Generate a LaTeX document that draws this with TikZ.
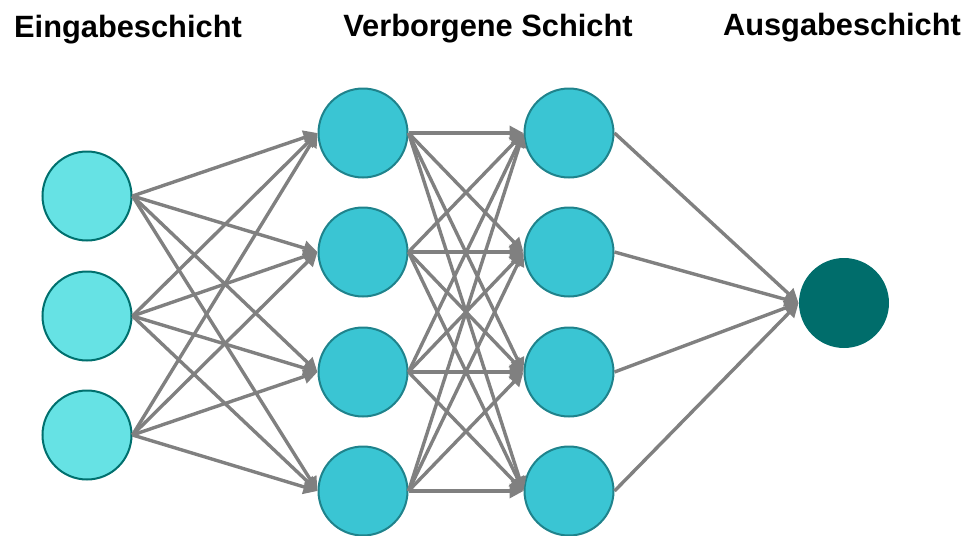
\documentclass[tikz,border=0pt]{standalone}
\usepackage{fontspec}
\setmainfont{Liberation Sans}
\usetikzlibrary{arrows.meta}
\definecolor{infill}{HTML}{66E2E4}
\definecolor{inborder}{HTML}{00706E}
\definecolor{hidfill}{HTML}{3AC5D3}
\definecolor{hidborder}{HTML}{1F838C}
\definecolor{outfill}{HTML}{006D6B}
\definecolor{edgegray}{HTML}{808080}
\tikzset{
  inneuron/.style={circle, minimum size=44.5pt, inner sep=0pt, fill=infill, draw=inborder, line width=1pt},
  hidneuron/.style={circle, minimum size=44.5pt, inner sep=0pt, fill=hidfill, draw=hidborder, line width=1pt},
  outneuron/.style={circle, minimum size=45pt, inner sep=0pt, fill=outfill},
  conn/.style={draw=edgegray, line width=1.7pt, -{Triangle[length=7pt,width=7pt]}},
  title/.style={font=\bfseries\fontsize{15.4pt}{18pt}\selectfont, anchor=base, inner sep=0pt}
}
\begin{document}
\begin{tikzpicture}[x=0.5pt,y=-0.5pt]
\useasboundingbox (0,0) rectangle (971,536);
\node[title] (t1) at (128,37) {Eingabeschicht};
\node[title] (t2) at (488,36) {Verborgene Schicht};
\node[title] (t3) at (842,35) {Ausgabeschicht};
\node[inneuron] (i1) at (87,196) {};
\node[inneuron] (i2) at (87,316) {};
\node[inneuron] (i3) at (87,435) {};
\node[hidneuron] (h1) at (363,133) {};
\node[hidneuron] (h2) at (363,252) {};
\node[hidneuron] (h3) at (363,372) {};
\node[hidneuron] (h4) at (363,491) {};
\node[hidneuron] (g1) at (569,133) {};
\node[hidneuron] (g2) at (569,252) {};
\node[hidneuron] (g3) at (569,372) {};
\node[hidneuron] (g4) at (569,491) {};
\node[outneuron] (o) at (844,303) {};
\foreach \a in {1,2,3}{
  \foreach \b in {1,2,3,4}{
    \draw[conn] (i\a.east) -- (h\b.west);
  }
}
\foreach \a in {1,2,3,4}{
  \foreach \b in {1,2,3,4}{
    \draw[conn] (h\a.east) -- (g\b.west);
  }
}
\foreach \a in {1,2,3,4}{
  \draw[conn] (g\a.east) -- (o.west);
}
\end{tikzpicture}
\end{document}
